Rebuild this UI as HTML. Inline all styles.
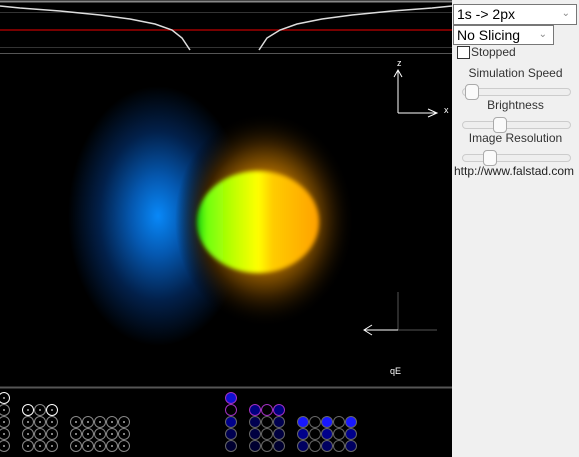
<!DOCTYPE html>
<html><head><meta charset="utf-8"><style>
body{margin:0;width:579px;height:457px;overflow:hidden;background:#f0f0f0;font-family:"Liberation Sans",sans-serif;position:relative}
#cv{position:absolute;left:0;top:0}
.panel{position:absolute;left:452px;top:0;width:127px;height:457px;background:#f0f0f0;font-size:12px;color:#222}
.sel{position:absolute;background:#fff;border:1px solid #777;font-size:14px;padding-left:3px;box-sizing:border-box;line-height:18px;color:#000}
.sel span{position:absolute;right:6px;top:0;color:#888;font-size:10px}
.lbl{position:absolute;width:127px;text-align:center;font-size:12px;color:#333}
.slider{position:absolute;left:10px;width:107px;height:6px;border:1px solid #ccc;border-radius:4px;background:#eee}
.thumb{position:absolute;top:-5px;width:12px;height:14px;border:1px solid #aaa;border-radius:4px;background:#fafafa}
</style></head><body>
<svg id="cv" width="452" height="457">
<defs>
<radialGradient id="blue" cx="0.5" cy="0.5" r="0.5">
<stop offset="0" stop-color="#0888f8"/><stop offset="0.3" stop-color="#0558b0"/><stop offset="0.65" stop-color="#02204a"/><stop offset="1" stop-color="#000"/>
</radialGradient>
<radialGradient id="glow" cx="0.5" cy="0.5" r="0.5">
<stop offset="0.45" stop-color="#a06400"/><stop offset="0.7" stop-color="#3a2200"/><stop offset="1" stop-color="#000" stop-opacity="0"/>
</radialGradient>
<linearGradient id="disk" x1="0" x2="1">
<stop offset="0" stop-color="#10d010"/><stop offset="0.08" stop-color="#70ff10"/><stop offset="0.3" stop-color="#c0ff00"/><stop offset="0.5" stop-color="#ffff00"/><stop offset="0.62" stop-color="#ffcc00"/><stop offset="1" stop-color="#ffa000"/>
</linearGradient>
<filter id="bl"><feGaussianBlur stdDeviation="2"/></filter>
</defs>
<rect width="452" height="457" fill="#000"/>
<g>
<line x1="0" y1="1.5" x2="452" y2="1.5" stroke="#888" stroke-width="2"/>
<line x1="0" y1="12.5" x2="452" y2="12.5" stroke="#333"/>
<line x1="0" y1="47.5" x2="452" y2="47.5" stroke="#333"/>
<line x1="0" y1="53.5" x2="452" y2="53.5" stroke="#555"/>
<line x1="0" y1="30" x2="452" y2="30" stroke="#a00000" stroke-width="1.5"/>
<path d="M0,6 L20,8 L60,11 L100,15 L130,19 L155,24 L172,30 L182,38 L190,50" fill="none" stroke="#ddd" stroke-width="1.5"/>
<path d="M259,50 L267,38 L280,30 L297,24 L322,19 L352,15 L392,11 L432,8 L452,6" fill="none" stroke="#ddd" stroke-width="1.5"/>
</g>
<g>
<ellipse cx="158" cy="216" rx="90" ry="130" fill="url(#blue)"/>
<ellipse cx="265" cy="220" rx="90" ry="108" fill="url(#glow)"/>
<ellipse cx="258" cy="222" rx="61" ry="51" fill="url(#disk)" filter="url(#bl)"/>
</g>
<g stroke="#fff" fill="none">
<line x1="398" y1="70" x2="398" y2="113"/><line x1="398" y1="113" x2="437" y2="113"/>
<path d="M394,77 L398,70 L402,77"/><path d="M428,109 L437,113 L428,117"/>
</g>
<text x="397" y="66" fill="#fff" font-size="9">z</text>
<text x="444" y="113" fill="#fff" font-size="9">x</text>
<g stroke="#fff" fill="none">
<line x1="398" y1="292" x2="398" y2="330" stroke="#555"/>
<line x1="398" y1="330" x2="437" y2="330" stroke="#555"/>
<line x1="364" y1="330" x2="398" y2="330"/><path d="M372,325 L364,330 L372,335"/>
</g>
<text x="390" y="374" fill="#fff" font-size="9">qE</text>
<line x1="0" y1="387.5" x2="452" y2="387.5" stroke="#555" stroke-width="2"/>
<g id="states"></g>
</svg>
<div class="panel">
<div class="sel" style="left:1px;top:4px;width:124px;height:21px">1s -&gt; 2px<span>&#8964;</span></div>
<div class="sel" style="left:1px;top:25px;width:101px;height:20px">No Slicing<span>&#8964;</span></div>
<div style="position:absolute;left:5px;top:46px;width:11px;height:11px;border:1px solid #333;background:#fff"></div>
<div style="position:absolute;left:19px;top:45px;font-size:12px;color:#333">Stopped</div>
<div class="lbl" style="top:66px">Simulation Speed</div>
<div class="slider" style="top:88px"><div class="thumb" style="left:2px"></div></div>
<div class="lbl" style="top:98px">Brightness</div>
<div class="slider" style="top:121px"><div class="thumb" style="left:30px"></div></div>
<div class="lbl" style="top:131px">Image Resolution</div>
<div class="slider" style="top:154px"><div class="thumb" style="left:20px"></div></div>
<div style="position:absolute;left:2px;top:164px;font-size:12px;color:#222">http://www.falstad.com</div>
</div>
<script>
const g=document.getElementById('states');
const rows=[398,410,422,434,446];
function c(x,y,fill,stroke,dot){
 const e=document.createElementNS('http://www.w3.org/2000/svg','circle');
 e.setAttribute('cx',x);e.setAttribute('cy',y);e.setAttribute('r',5.5);
 e.setAttribute('fill',fill);e.setAttribute('stroke',stroke);
 
 
 g.appendChild(e);
 if(dot){const d=document.createElementNS('http://www.w3.org/2000/svg','circle');
 d.setAttribute('cx',x);d.setAttribute('cy',y);d.setAttribute('r',1);d.setAttribute('fill','#aaa');
 
 
 g.appendChild(d);}
}
c(4,398,'none','#fff',true);
for(const y of rows.slice(1))c(4,y,'none','#888',true);
[28,40,52].forEach((x,i)=>{c(x,410,'none',i==1?'#888':'#fff',true);rows.slice(2).forEach(y=>c(x,y,'none','#888',true));});
[76,88,100,112,124].forEach(x=>rows.slice(2).forEach(y=>c(x,y,'none','#888',true)));
c(231,398,'#1010d0','#a030c0');c(231,410,'none','#a030c0');
c(231,422,'#00008a','#666');c(231,434,'#000050','#666');c(231,446,'#000030','#666');
[255,267,279].forEach((x,i)=>{c(x,410,i==1?'none':'#000080','#a030c0');
 rows.slice(2).forEach((y,j)=>c(x,y,i==1?'none':['#000050','#000040','#000030'][j],'#666'));});
[303,315,327,339,351].forEach((x,i)=>{const on=i%2==0;
 c(x,422,on?'#1818ff':'none','#666');c(x,434,on?'#00008a':'none','#666');c(x,446,on?'#000060':'none','#666');});
</script>
</body></html>
